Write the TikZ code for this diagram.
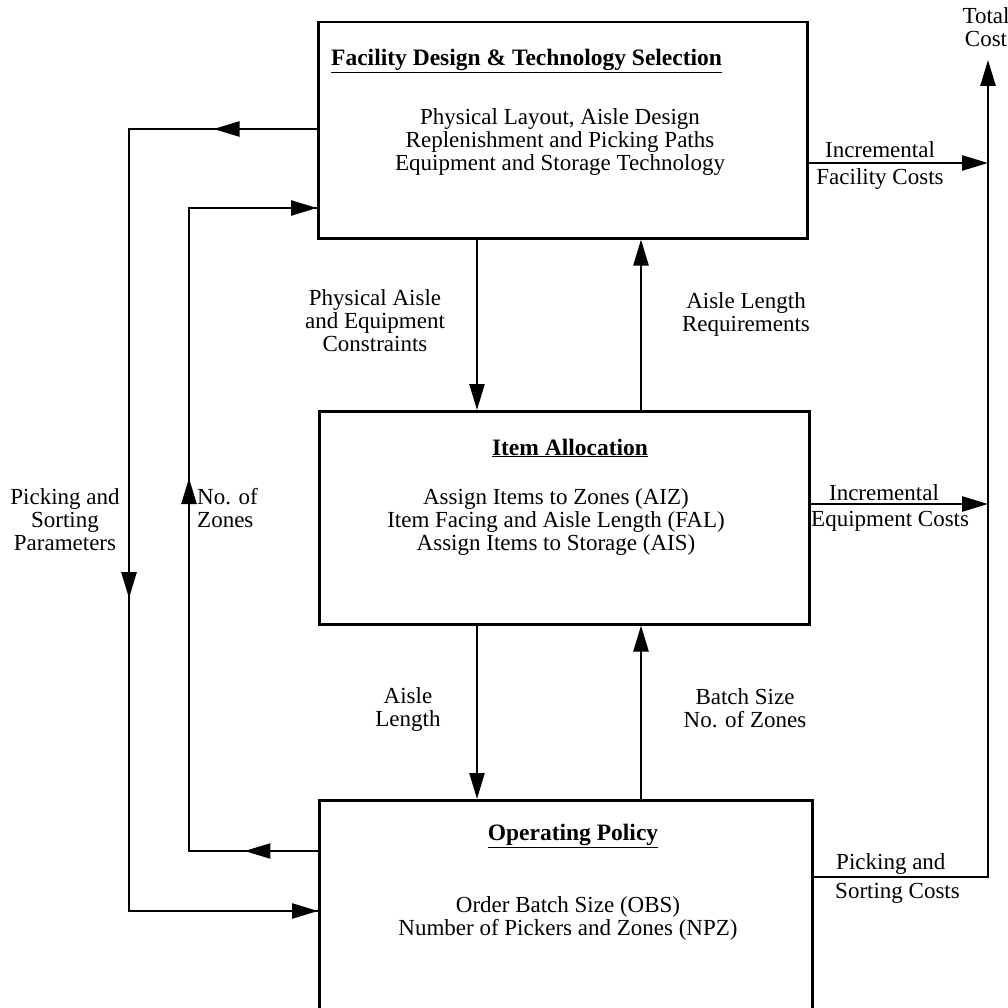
\documentclass[tikz,border=0pt]{standalone}
\usepackage{fontspec}
\setmainfont{Liberation Serif}
\usetikzlibrary{arrows.meta,decorations.markings}
\begin{document}
\begin{tikzpicture}[x=1pt,y=-1pt,
  line/.style={line width=2.5pt, line join=miter},
  arr/.style={line, -{Triangle[length=26pt,width=15pt]}},
  midarr/.style={line, postaction={decorate,decoration={markings,
     mark=at position #1 with {\arrow{Triangle[length=26pt,width=15pt]}}}}},
  box/.style={draw, line width=2.5pt, inner sep=0pt, anchor=north west},
  txt/.style={font=\fontsize{23}{23}\selectfont, align=center, inner sep=0pt},
  ttl/.style={font=\fontsize{23.5}{23.5}\selectfont\bfseries, inner sep=0pt},
]
\useasboundingbox (0,0) rectangle (1008,1008);

% boxes
\node[box, minimum width=489pt, minimum height=216pt] (fac) at (317,21) {};
\node[box, minimum width=490pt, minimum height=213pt] (alloc) at (318,410) {};
\node[box, minimum width=493pt, minimum height=220pt] (ops) at (318,799) {};

% box texts
\node[ttl, anchor=west] (facT) at (331,61) {\underline{Facility Design \& Technology Selection}};
\node[txt] (facB) at (560,142) {Physical Layout, Aisle Design\\Replenishment and Picking Paths\\Equipment and Storage Technology};
\node[ttl] (allocT) at (570,448) {\underline{Item Allocation}};
\node[txt] (allocB) at (556,522) {Assign Items to Zones (AIZ)\\Item Facing and Aisle Length (FAL)\\Assign Items to Storage (AIS)};
\node[ttl] (opsT) at (573,836) {\underline{Operating Policy}};
\node[txt] (opsB) at (568,918) {Order Batch Size (OBS)\\Number of Pickers and Zones (NPZ)};

% vertical connectors between boxes
\coordinate (xd) at (477,0);
\coordinate (xu) at (641,0);
\draw[arr] (fac.south -| xd) -- (alloc.north -| xd);
\draw[arr] (alloc.north -| xu) -- (fac.south -| xu);
\draw[arr] (alloc.south -| xd) -- (ops.north -| xd);
\draw[arr] (ops.north -| xu) -- (alloc.south -| xu);

\node[txt] (lPA) at (375,321) {Physical Aisle\\and Equipment\\Constraints};
\node[txt] (lALR) at (746,314) {Aisle Length\\Requirements};
\node[txt] (lAL) at (408,709) {Aisle\\Length};
\node[txt] (lBS) at (745,708) {Batch Size\\No. of Zones};

% right side: costs
\coordinate (tcx) at (988,0);
\coordinate (tctop) at (988,60);
\coordinate (yF) at (0,163);
\coordinate (yE) at (0,504);
\coordinate (yP) at (0,877);
\draw[arr] (fac.east |- yF) -- (tcx |- yF);
\draw[arr] (alloc.east |- yE) -- (tcx |- yE);
\draw[arr] (ops.east |- yP) -- (tcx |- yP) -- (tctop);

\node[txt] (lTC) at (986,27) {Total\\Cost};
\node[txt] (lIF1) at (880,150) {Incremental};
\node[txt] (lIF2) at (880,179) {Facility Costs};
\node[txt] (lIE1) at (884,493) {Incremental};
\node[txt, anchor=west] (lIE2) at (811,521) {Equipment Costs};
\node[txt, anchor=west] (lPS1) at (836,864) {Picking and};
\node[txt, anchor=west] (lPS2) at (835,893) {Sorting Costs};

% left side: outer loop (picking and sorting parameters)
\coordinate (oT) at (129,129);
\coordinate (oB) at (129,911);
\draw[line] (fac.west |- oT) -- (oT) -- (oB) -- (ops.west |- oB);
\draw[midarr=0.55] (fac.west |- oT) -- (oT);
\draw[midarr=0.6] (oT) -- (oB);
\draw[arr] (oB) -- (ops.west |- oB);

% left side: inner loop (no. of zones)
\coordinate (iT) at (189,208);
\coordinate (iB) at (189,851);
\draw[line] (ops.west |- iB) -- (iB) -- (iT) -- (fac.west |- iT);
\draw[midarr=0.57] (ops.west |- iB) -- (iB);
\draw[midarr=0.58] (iB) -- (iT);
\draw[arr] (iT) -- (fac.west |- iT);

\node[txt] (lPSP) at (65,520) {Picking and\\Sorting\\Parameters};
\node[txt, anchor=west, align=left] (lNZ) at (197,508) {No. of\\Zones};
\end{tikzpicture}
\end{document}
